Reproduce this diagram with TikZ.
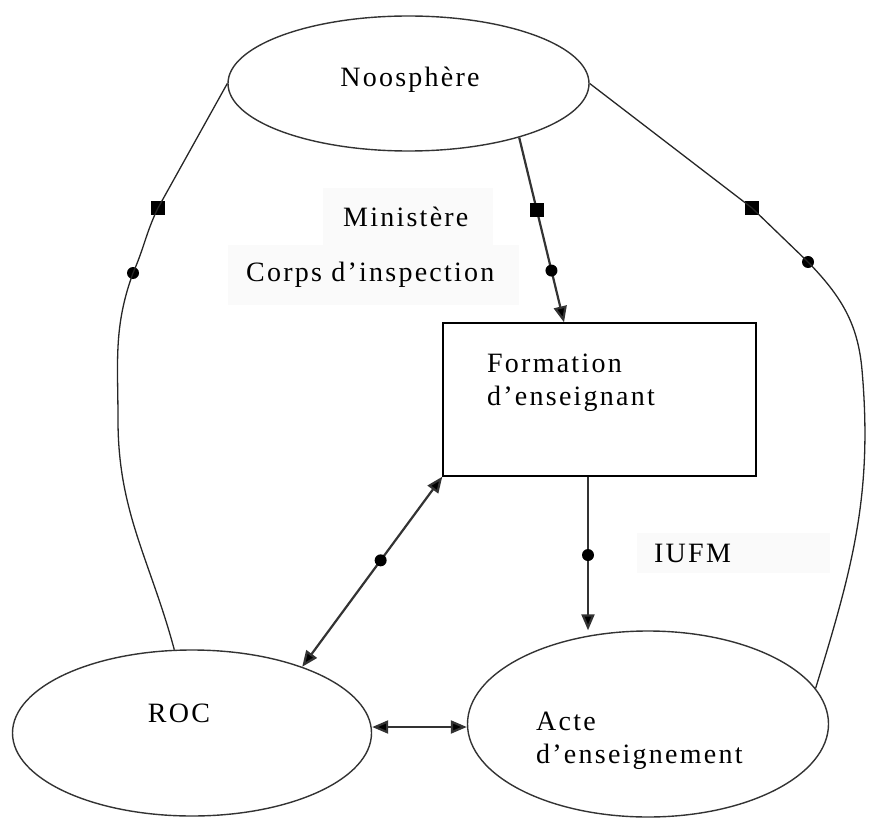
\documentclass[tikz,border=0pt]{standalone}
\usepackage{fontspec}
\setmainfont{Liberation Serif}[LetterSpace=8]
\usepackage{tikz}
\usetikzlibrary{shapes, arrows.meta}

\begin{document}
\begin{tikzpicture}[x=1pt,y=1pt,>={Triangle[length=16pt,width=13pt]},
      font=\fontsize{28}{33}\selectfont,
      ell node/.style={ellipse,draw=black!80,line width=1.4pt,inner sep=0pt},
      box node/.style={rectangle,draw,line width=1.4pt,inner sep=0pt},
      text node/.style={inner sep=0pt,align=left},
      lab node/.style={fill=black!2,inner ysep=0pt,anchor=north west,align=left,text width=#1},
      sq mark/.style={rectangle,fill=black,inner sep=0pt,minimum size=14pt},
      dot mark/.style={circle,fill=black,inner sep=0pt,minimum size=12pt},
      curve/.style={draw=black!85,line width=1.3pt},
      arrow line/.style={draw=black!80,line width=2.2pt}]

    \useasboundingbox (0,0) rectangle (869,-818);

    % faint text boxes
    \node[lab node=130pt, inner xsep=20pt, minimum height=57pt] (min) at (323,-188) {Ministère};
    \node[lab node=255pt, inner xsep=18pt, minimum height=60pt] (insp) at (228,-245) {Corps d’inspection};
    \node[lab node=159pt, inner xsep=17pt, minimum height=40pt] (iufm) at (637,-533) {IUFM};

    % main shapes
    \node[ell node, minimum width=361pt, minimum height=135pt] (noo) at (408.5,-83.5) {};
    \node[ell node, minimum width=359pt, minimum height=166pt] (roc) at (192,-733) {};
    \node[ell node, minimum width=361pt, minimum height=186pt] (acte) at (648,-724) {};
    \node[box node, minimum width=313pt, minimum height=153pt] (form) at (599.5,-399.5) {};

    \node[text node] (noo text) at (410,-80) {Noosphère};
    \node[text node] (roc text) at (179,-713) {ROC};
    \node[text node, anchor=west] (form text) at (487,-383) {Formation\\d’enseignant};
    \node[text node, anchor=west] (acte text) at (536,-741) {Acte\\d’enseignement};

    % marks on the side curves
    \node[sq mark] (ls) at (158,-208) {};
    \node[dot mark] (ld) at (133,-273) {};
    \node[sq mark] (rs) at (752,-208) {};
    \node[dot mark] (rd) at (808,-262) {};
    \coordinate (lb) at (118,-420);
    \coordinate (rb) at (862,-370);

    \draw[curve] (noo.west) -- (ls.center) to[out=-116,in=66] (ld.center)
        to[out=-110,in=90] (lb) to[out=-90,in=105] (roc.102);
    \draw[curve] (noo.east) -- (rs.center) -- (rd.center)
        to[out=-46,in=95] (rb) to[out=-85,in=73] (acte.12);

    \path[arrow line]
        (noo.-26) edge[->] node[pos=.39, sq mark] {} node[pos=.72, dot mark] {} ([xshift=-35.5pt]form.north)
        (form.south west) edge[<->] node[pos=.44, dot mark] {} (roc.31)
        ([xshift=-11.5pt]form.south) edge[->] node[pos=.51, dot mark] {} ([xshift=-60pt]acte.north)
        ([yshift=6pt]roc.east) edge[<->] ([yshift=-3pt]acte.west)
    ;
\end{tikzpicture}
\end{document}
